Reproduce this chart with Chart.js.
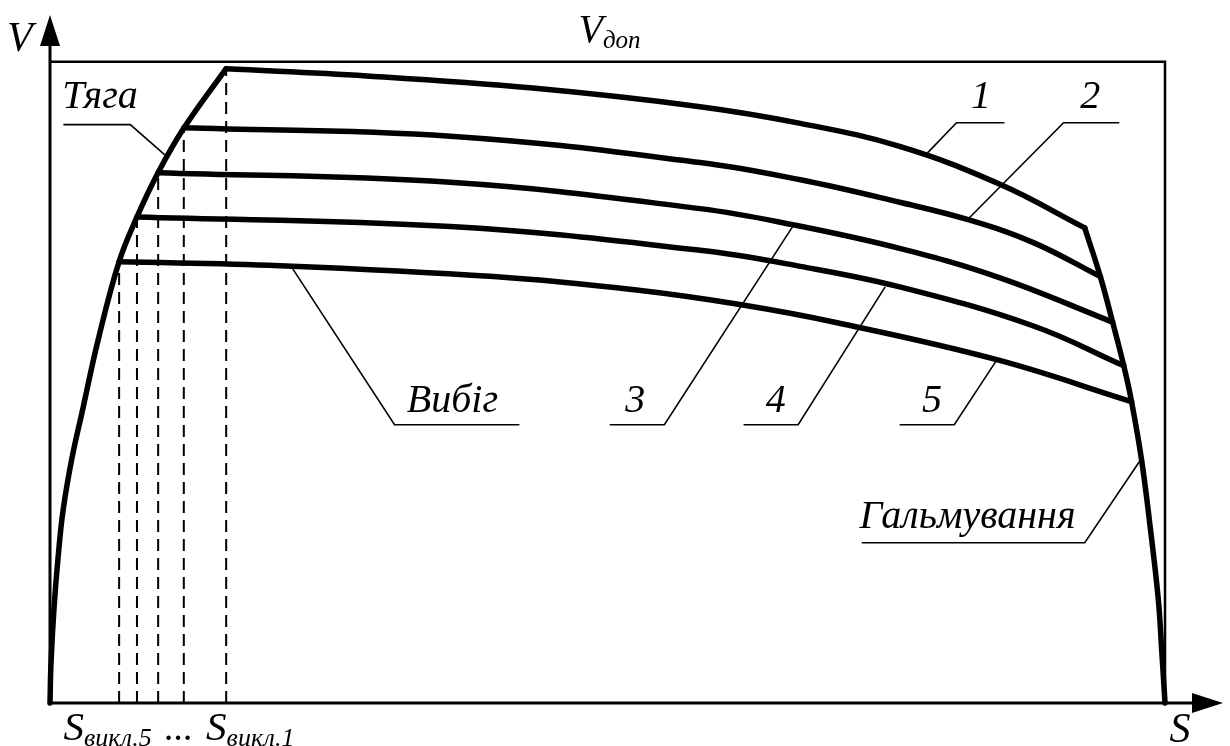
<!DOCTYPE html>
<html>
<head>
<meta charset="utf-8">
<script src="https://cdn.jsdelivr.net/npm/chart.js@4"></script>
<style>
  html, body { margin: 0; padding: 0; background: #fff; }
  canvas { display: block; }
</style>
</head>
<body>
<canvas id="chart" width="1230" height="746"></canvas>
<script>
// S - distance (0..100 = end of section), V - speed (100 = V доп)

// traction curve (Тяга)
const tractionS = [0, 0.09, 0.36, 0.72, 1.17, 1.97, 2.96, 4.30, 6.19, 7.80, 9.69, 12.02, 15.78];
const tractionV = [0, 6.2, 14.8, 22.6, 30.0, 38.2, 46.0, 56.5, 68.8, 75.8, 82.7, 89.7, 98.9];

// coasting curves (Вибіг) 1..5
const coast1S = [15.8, 28.4, 43.3, 58.3, 67.3, 76.2, 85.2, 92.8];
const coast1V = [98.9, 97.8, 95.9, 93.0, 90.4, 86.8, 80.9, 74.1];
const coast2S = [12.0, 35.9, 58.3, 67.3, 76.2, 82.5, 88.2, 94.2];
const coast2V = [89.7, 88.4, 84.3, 81.6, 78.1, 75.3, 71.8, 66.5];
const coast3S = [9.7, 35.9, 58.3, 66.6, 76.2, 85.2, 95.3];
const coast3V = [82.7, 81.2, 77.1, 74.6, 70.9, 66.3, 59.4];
const coast4S = [7.8, 35.9, 58.3, 67.3, 76.2, 88.2, 96.3];
const coast4V = [75.8, 74.3, 70.6, 68.1, 64.9, 58.8, 52.6];
const coast5S = [6.2, 20.6, 39.8, 52.6, 62.0, 70.6, 85.0, 97.0];
const coast5V = [68.8, 68.2, 66.5, 64.4, 62.1, 59.3, 53.5, 47.0];

// braking curve (Гальмування)
const brakeS = [92.8, 94.2, 95.3, 96.3, 97.0, 97.9, 98.7, 99.4, 99.7, 100];
const brakeV = [74.1, 66.5, 59.4, 52.6, 47.0, 37.9, 27.0, 16.1, 8.3, 0];

// switch-off points S викл.1 .. S викл.5
const switchS = [15.8, 12.0, 9.7, 7.8, 6.2];
const switchV = [98.9, 89.7, 82.7, 75.8, 68.8];

const vLimit = 100;   // V доп
const sEnd = 100;
const sMax = 105.2;   // axis arrow tips
const vMax = 107.3;

// labels with leader lines (data units)
const notes = [
  { text: 'Тяга', at: [1.1, 92.8], leader: [[1.2, 90.2], [7.2, 90.2], [10.3, 85.5]] },
  { text: '1', at: [82.6, 92.8], leader: [[85.6, 90.5], [81.3, 90.5], [78.7, 85.8]] },
  { text: '2', at: [92.4, 92.8], leader: [[95.9, 90.5], [90.9, 90.5], [82.3, 75.4]] },
  { text: 'Вибіг', at: [32.0, 45.4], leader: [[21.7, 67.9], [30.9, 43.4], [42.1, 43.4]] },
  { text: '3', at: [51.6, 45.4], leader: [[50.2, 43.4], [55.1, 43.4], [66.6, 74.3]] },
  { text: '4', at: [64.2, 45.4], leader: [[62.2, 43.4], [67.1, 43.4], [74.9, 64.9]] },
  { text: '5', at: [78.2, 45.4], leader: [[76.2, 43.4], [81.1, 43.4], [84.8, 53.2]] },
  { text: 'Гальмування', at: [72.6, 27.3], leader: [[72.8, 25.0], [92.8, 25.0], [97.8, 37.9]] }
];

function pts(xs, ys) {
  return xs.map((x, i) => ({ x: x, y: ys[i] }));
}

const thick = {
  showLine: true, borderColor: '#000', borderWidth: 5.5, pointRadius: 0,
  tension: 0.4, clip: false, borderCapStyle: 'round', borderJoinStyle: 'round'
};

const datasets = [
  { data: [{ x: 0, y: vLimit }, { x: sEnd, y: vLimit }, { x: sEnd, y: 0 }],
    showLine: true, borderColor: '#000', borderWidth: 2.5, pointRadius: 0, tension: 0, clip: false },
];

switchS.forEach((s, i) => {
  datasets.push({
    data: [{ x: s, y: 0 }, { x: s, y: switchV[i] }],
    showLine: true, borderColor: '#000', borderWidth: 2, borderDash: [12, 7],
    pointRadius: 0, tension: 0, clip: false
  });
});

[[tractionS, tractionV], [coast1S, coast1V], [coast2S, coast2V], [coast3S, coast3V],
 [coast4S, coast4V], [coast5S, coast5V], [brakeS, brakeV]].forEach(c => {
  datasets.push(Object.assign({ data: pts(c[0], c[1]) }, thick));
});

const SERIF = "'Liberation Serif', 'Times New Roman', serif";

function subText(ctx, main, sub, x, y, size, subSize, drop) {
  ctx.font = 'italic ' + size + 'px ' + SERIF;
  ctx.fillText(main, x, y);
  const w = ctx.measureText(main).width;
  ctx.font = 'italic ' + subSize + 'px ' + SERIF;
  ctx.fillText(sub, x + w, y + drop);
  return x + w + ctx.measureText(sub).width;
}

const drawing = {
  id: 'drawing',
  afterDatasetsDraw(chart) {
    const ctx = chart.ctx;
    const xs = chart.scales.x, ys = chart.scales.y;
    const px = v => xs.getPixelForValue(v), py = v => ys.getPixelForValue(v);
    const x0 = px(0), y0 = py(0);
    const top = py(vMax), right = px(sMax);
    ctx.save();
    ctx.fillStyle = '#000';
    ctx.strokeStyle = '#000';

    // axes
    ctx.lineWidth = 3;
    ctx.beginPath();
    ctx.moveTo(x0, y0); ctx.lineTo(x0, top + 20);
    ctx.moveTo(x0, y0); ctx.lineTo(right - 20, y0);
    ctx.stroke();
    ctx.beginPath();
    ctx.moveTo(x0, top); ctx.lineTo(x0 - 10, top + 31); ctx.lineTo(x0 + 10, top + 31); ctx.closePath();
    ctx.moveTo(right, y0); ctx.lineTo(right - 31, y0 - 10); ctx.lineTo(right - 31, y0 + 10); ctx.closePath();
    ctx.fill();

    // leader lines
    ctx.lineWidth = 1.6;
    notes.forEach(n => {
      ctx.beginPath();
      n.leader.forEach((p, i) => {
        if (i === 0) ctx.moveTo(px(p[0]), py(p[1])); else ctx.lineTo(px(p[0]), py(p[1]));
      });
      ctx.stroke();
    });

    // labels
    ctx.textBaseline = 'alphabetic';
    ctx.textAlign = 'left';
    ctx.font = 'italic 40px ' + SERIF;
    notes.forEach(n => ctx.fillText(n.text, px(n.at[0]), py(n.at[1])));

    ctx.font = 'italic 42px ' + SERIF;
    ctx.fillText('V', 7, py(vMax) + 36);
    ctx.fillText('S', px(100.4), y0 + 39);
    subText(ctx, 'V', 'доп', px(47.4), py(vLimit) - 20, 40, 25, 6);

    const sy = y0 + 37;
    let end = subText(ctx, 'S', 'викл.5', px(1.2), sy, 41, 26, 6);
    ctx.font = 'italic 38px ' + SERIF;
    ctx.fillText('...', end + 13, sy);
    subText(ctx, 'S', 'викл.1', px(14.0), sy, 41, 26, 6);
    ctx.restore();
  }
};

new Chart(document.getElementById('chart'), {
  type: 'scatter',
  data: { datasets: datasets },
  options: {
    responsive: false,
    animation: false,
    devicePixelRatio: 1,
    layout: { padding: { left: 50, top: 15, right: 7, bottom: 43 } },
    plugins: { legend: { display: false }, tooltip: { enabled: false } },
    scales: {
      x: { type: 'linear', min: 0, max: sMax, display: false },
      y: { type: 'linear', min: 0, max: vMax, display: false }
    }
  },
  plugins: [drawing]
});
</script>
</body>
</html>
